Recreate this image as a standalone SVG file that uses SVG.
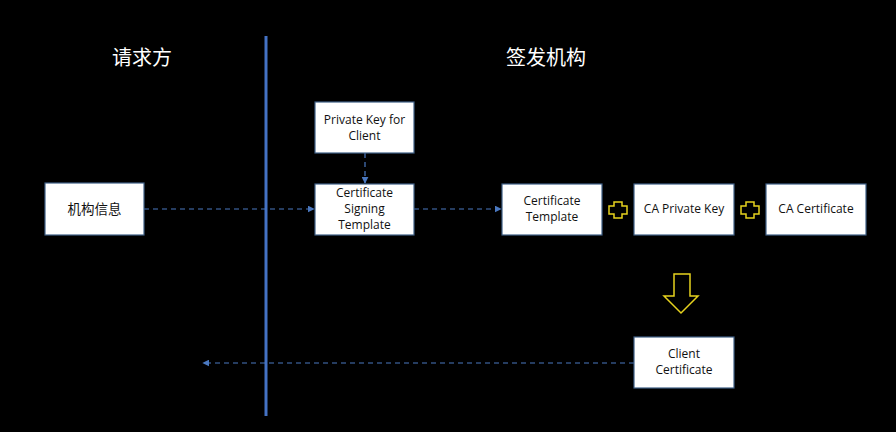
<svg xmlns="http://www.w3.org/2000/svg" width="896" height="432" viewBox="0 0 896 432">
<style>
.bg{fill:#000}
.box{fill:#fff;stroke:#3f5f86;stroke-width:1.2}
.lbl{font-family:"Open Sans","Liberation Sans","Noto Sans CJK SC",sans-serif;font-size:12px;fill:#111;text-anchor:middle}
.cjk{font-family:"Noto Sans CJK SC","Noto Sans",sans-serif;font-size:13.5px;fill:#111;text-anchor:middle}
.title{font-family:"Noto Sans CJK SC","Noto Sans",sans-serif;font-size:20px;fill:#fff;text-anchor:middle}
.conn{fill:none;stroke:#4a78c0;stroke-width:1.2;stroke-dasharray:5 4}
.sym{fill:none;stroke:#e6d21e;stroke-width:1.5}
</style>
<defs>
<marker id="arr" viewBox="0 0 10 10" refX="9" refY="5" markerWidth="7" markerHeight="7" orient="auto" markerUnits="userSpaceOnUse">
<path d="M0,0 L10,5 L0,10 z" fill="#4a78c0"/>
</marker>
</defs>
<rect class="bg" x="0" y="0" width="896" height="432"/>
<line x1="266" y1="36" x2="266" y2="416" stroke="#4472c4" stroke-width="3"/>
<text class="title" x="142" y="65">请求方</text>
<text class="title" x="546" y="65">签发机构</text>

<g id="connectors">
<line class="conn" x1="144" y1="209" x2="314" y2="209" marker-end="url(#arr)"/>
<line class="conn" x1="365" y1="153" x2="365" y2="183" marker-end="url(#arr)"/>
<line class="conn" x1="414" y1="209" x2="501" y2="209" marker-end="url(#arr)"/>
<line class="conn" x1="634" y1="363" x2="203" y2="363" marker-end="url(#arr)"/>
</g>

<g id="org-info">
<rect class="box" x="45" y="183" width="99" height="52"/>
<text class="cjk" x="94.5" y="214">机构信息</text>
</g>
<g id="private-key-client">
<rect class="box" x="315" y="102" width="99" height="51"/>
<text class="lbl" x="364.5" y="124">Private Key for</text>
<text class="lbl" x="364.5" y="140">Client</text>
</g>
<g id="csr">
<rect class="box" x="315" y="184" width="99" height="51"/>
<text class="lbl" x="364.5" y="197">Certificate</text>
<text class="lbl" x="364.5" y="213">Signing</text>
<text class="lbl" x="364.5" y="229">Template</text>
</g>
<g id="cert-template">
<rect class="box" x="502" y="184" width="100" height="51"/>
<text class="lbl" x="552" y="205">Certificate</text>
<text class="lbl" x="552" y="221">Template</text>
</g>
<g id="ca-private-key">
<rect class="box" x="634" y="184" width="100" height="51"/>
<text class="lbl" x="684" y="213">CA Private Key</text>
</g>
<g id="ca-certificate">
<rect class="box" x="766" y="184" width="100" height="51"/>
<text class="lbl" x="816" y="213">CA Certificate</text>
</g>
<g id="client-certificate">
<rect class="box" x="634" y="337" width="100" height="51"/>
<text class="lbl" x="684" y="358">Client</text>
<text class="lbl" x="684" y="374">Certificate</text>
</g>

<g id="plus1">
<path class="sym" d="M614,202 h8 v4 h5 v8 h-5 v4 h-8 v-4 h-5 v-8 h5 z"/>
</g>
<g id="plus2">
<path class="sym" d="M746,202 h8 v4 h5 v8 h-5 v4 h-8 v-4 h-5 v-8 h5 z"/>
</g>
<g id="down-arrow">
<path class="sym" d="M674,274 h16 v22 h8 l-17,17 l-17,-17 h10 z"/>
</g>
</svg>
